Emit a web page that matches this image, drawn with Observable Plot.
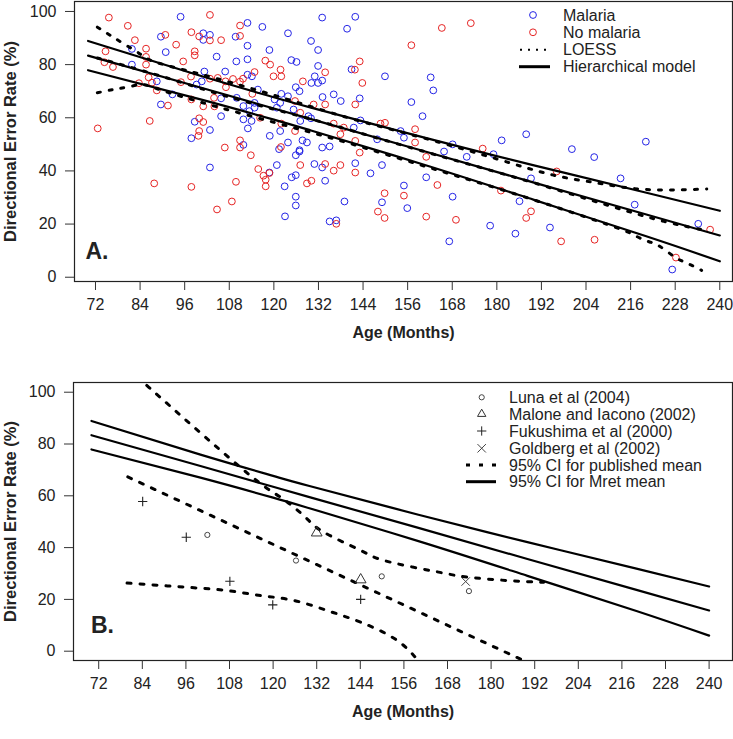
<!DOCTYPE html>
<html><head><meta charset="utf-8">
<script src="https://cdn.jsdelivr.net/npm/d3@7"></script>
<script src="https://cdn.jsdelivr.net/npm/@observablehq/plot@0.6"></script>
<style>
body{margin:0;background:#fff;}
#chart svg{display:block;}
</style></head><body><div id="chart"></div>
<script>
const xTicks = [72,84,96,108,120,132,144,156,168,180,192,204,216,228,240];
const yTicks = [0,20,40,60,80,100];

// Panel A: [age (months), directional error rate (%)]
const malaria = [[94.9,98.0],[112.9,95.7],[116.9,94.2],[133.0,97.7],[141.9,98.0],[139.7,93.5],[123.8,91.8],[109.7,90.5],[89.6,90.5],[101.0,91.8],[102.8,91.2],[101.0,89.3],[130.0,88.9],[112.9,87.1],[81.8,85.9],[90.9,84.7],[118.8,85.5],[131.9,85.5],[104.6,83.0],[109.9,81.2],[112.9,82.0],[124.7,81.7],[126.1,81.0],[81.8,80.0],[131.9,79.5],[140.9,78.2],[106.9,77.4],[101.3,77.4],[112.9,76.2],[114.1,75.6],[149.9,75.6],[131.0,75.6],[133.0,74.0],[130.1,73.1],[131.9,73.1],[100.6,73.7],[99.2,72.5],[88.5,73.7],[115.7,70.6],[122.0,69.0],[123.8,68.1],[125.9,71.5],[126.9,70.0],[136.1,68.8],[133.1,67.8],[138.0,66.3],[143.1,67.3],[92.7,68.8],[89.6,65.0],[105.8,67.3],[110.0,67.5],[114.8,65.6],[114.8,63.8],[113.4,62.5],[111.8,64.4],[120.2,66.9],[121.7,65.6],[120.8,63.8],[125.3,63.1],[129.3,60.6],[105.8,60.6],[98.7,58.5],[111.8,59.4],[114.0,58.8],[127.1,58.8],[130.0,59.8],[143.3,59.0],[141.5,56.3],[113.0,56.0],[102.8,55.4],[97.8,52.3],[118.9,53.2],[121.7,55.0],[147.8,51.9],[154.1,55.0],[123.8,50.7],[127.7,51.5],[128.9,50.7],[111.8,49.8],[121.4,48.2],[133.0,48.8],[135.0,49.2],[126.9,47.8],[102.8,41.3],[120.8,42.2],[118.8,39.4],[130.9,42.6],[133.0,41.3],[141.9,42.9],[146.0,39.1],[149.1,42.2],[124.8,37.6],[125.9,38.4],[133.8,36.3],[122.9,34.2],[125.9,30.3],[125.9,27.0],[139.0,28.5],[123.0,22.9],[135.0,21.0],[136.8,21.4],[149.1,28.2],[125.9,45.9],[126.9,47.3],[162.2,75.2],[162.9,70.3],[157.0,65.9],[160.0,60.6],[155.0,52.5],[168.1,50.0],[181.3,51.5],[187.9,53.8],[220.1,51.0],[200.2,48.2],[165.8,47.3],[171.9,45.3],[179.1,46.3],[206.2,45.2],[161.0,37.6],[155.0,34.5],[168.1,30.3],[155.9,26.0],[167.2,13.5],[178.2,19.4],[185.0,16.4],[186.1,28.6],[189.2,37.2],[194.3,18.7],[213.3,37.2],[217.1,27.3],[234.2,20.1],[227.2,2.9]];
const noMalaria = [[75.6,97.7],[102.8,98.7],[80.7,94.6],[110.9,94.7],[110.9,90.8],[90.8,91.2],[97.8,92.2],[99.9,90.6],[102.8,89.1],[105.8,89.2],[82.6,89.2],[93.7,87.5],[74.7,85.0],[85.6,86.0],[98.7,85.0],[98.7,83.5],[85.6,82.9],[117.7,81.5],[95.6,81.2],[143.1,81.2],[74.4,80.9],[76.7,79.1],[85.6,80.0],[119.0,80.0],[141.8,78.1],[114.8,77.2],[121.8,78.1],[119.9,75.6],[122.0,75.6],[133.8,77.1],[127.8,73.7],[143.8,73.1],[111.7,74.7],[110.9,73.6],[109.0,74.6],[107.0,73.7],[104.9,75.0],[102.8,74.7],[97.7,75.5],[95.0,73.4],[86.3,75.2],[87.2,73.2],[83.7,73.0],[88.5,70.3],[114.2,69.0],[103.9,67.5],[107.1,71.5],[97.8,66.9],[91.5,64.6],[101.0,64.3],[104.0,64.3],[125.7,66.3],[130.7,65.0],[133.8,65.0],[141.9,65.0],[127.1,61.9],[86.6,58.8],[72.6,56.0],[99.9,59.8],[101.0,58.4],[116.3,60.0],[122.0,57.8],[136.1,57.8],[148.7,57.8],[149.9,58.1],[138.8,56.3],[99.9,55.0],[99.7,53.2],[125.7,55.0],[137.9,53.8],[141.9,51.3],[110.9,51.5],[106.8,48.8],[110.9,48.8],[121.9,49.0],[87.8,35.3],[97.8,34.0],[113.8,45.9],[115.8,40.7],[117.2,38.2],[117.8,36.7],[117.8,34.2],[118.8,39.2],[127.1,42.2],[133.8,42.6],[136.1,40.1],[137.9,42.2],[141.9,39.4],[128.9,35.3],[130.1,36.3],[109.8,35.9],[108.7,28.5],[104.7,25.5],[136.8,20.1],[149.8,31.6],[148.0,24.7],[149.8,22.3],[143.1,46.9],[165.2,93.8],[173.0,95.6],[157.0,87.3],[158.0,55.7],[158.0,50.7],[176.2,48.4],[161.0,45.3],[164.0,34.7],[155.0,30.7],[161.0,22.8],[169.0,21.6],[181.1,32.6],[196.1,39.8],[189.2,24.8],[187.9,22.3],[197.3,13.5],[206.3,14.1],[237.4,17.9],[228.2,7.4]];

// Hierarchical (Mret) model: mean and 95% CI
const hierAge   = [70, 100, 120, 130, 160, 190, 220, 240];
const hierMean  = [83.4, 71.5, 63.5, 59.5, 47.6, 35.6, 23.7, 15.7];
const hierUpper = [88.9, 75.9, 67.7, 63.8, 52.7, 42.1, 31.9, 25.0];
const hierLower = [77.9, 67.0, 59.3, 55.2, 42.5, 29.1, 15.5, 6.0];

// LOESS fit and band
const loessUpper = [[72.5,94.1],[76,91.0],[80,87.5],[84,84.0],[88,81.0],[100,76.5],[120,68.5],[140,60.0],[160,52.5],[180,44.5],[195,38.5],[206,35.7],[216,33.5],[226,32.8],[236.5,33.2]];
const loessMean  = [[72.5,82.5],[90,75.5],[110,67.0],[130,59.5],[150,51.5],[170,43.5],[190,35.5],[210,27.0],[225,21.0],[236.5,17.6]];
const loessLower = [[72.5,69.4],[76.7,70.6],[80.3,71.5],[84.3,72.5],[88,71.2],[100,66.0],[120,58.3],[140,50.5],[160,42.0],[180,33.5],[200,24.5],[211.7,18.9],[216.2,16.4],[219.8,13.9],[223.4,12.0],[227.9,7.6],[231.5,5.1],[235.1,2.6]];

// Panel B: published studies
const luna      = [[101.9,44.9],[126.3,35.0],[149.9,28.9],[173.9,23.2]];
const malone    = [[132.0,45.7],[144.1,27.6]];
const fukushima = [[84.1,57.8],[96.1,44.0],[108.1,27.0],[119.9,17.9],[144.1,20.0]];
const goldberg  = [[173.0,26.9]];
const pubUpper = [[80,109.0],[85.8,101.9],[111.5,70.4],[122,59.5],[128.9,51.7],[134,45.9],[144.1,38.9],[149.6,35.4],[158.7,32.4],[167.9,29.9],[173.4,28.6],[184.4,27.3],[194.5,26.6]];
const pubMean  = [[80,67.3],[190,-4.3]];
const pubLower = [[79.8,26.3],[89,25.4],[98.2,24.5],[107.4,23.4],[116.5,21.5],[125.7,19.6],[134.9,15.7],[144.1,11.2],[154.2,4.1],[159.9,-3.6],[162,-6.5]];

const legendA = ["Malaria", "No malaria", "LOESS", "Hierarchical model"];
const legendB = ["Luna et al (2004)", "Malone and Iacono (2002)", "Fukushima et al (2000)", "Goldberg et al (2002)", "95% CI for published mean", "95% CI for Mret mean"];
const xLabel = "Age (Months)";
const yLabel = "Directional Error Rate (%)";

const FONT = "'Liberation Sans',Arial,sans-serif";
const FS = 16;

const hier = hierAge.map((a, i) => ({age: a, mean: hierMean[i], upper: hierUpper[i], lower: hierLower[i]}));
const pts = a => a.map(([age, rate]) => ({age, rate}));

const DOT = {strokeWidth: 3, strokeDasharray: "3,9", stroke: "black"};
const SOLID = {strokeWidth: 2.2, stroke: "black"};

function frameMarks(panelLetter, letterDx, letterDy, titleDx) {
  return [
    Plot.frame({stroke: "#222", strokeWidth: 1.2}),
    Plot.axisX({ticks: xTicks, tickSize: 9, tickPadding: 8, tickFormat: d => String(d), label: null, fontSize: FS, stroke: "#333"}),
    Plot.axisY({ticks: yTicks, tickSize: 9, tickPadding: 9, tickFormat: d => String(d), label: null, fontSize: FS, stroke: "#333"}),
    Plot.text([xLabel], {text: d => d, frameAnchor: "bottom", dy: 51, textAnchor: "middle", lineAnchor: "middle", fontWeight: "bold", fontSize: FS}),
    Plot.text([yLabel], {text: d => d, frameAnchor: "left", dx: titleDx, rotate: -90, textAnchor: "middle", lineAnchor: "middle", fontWeight: "bold", fontSize: 16.5}),
    Plot.text([panelLetter], {text: d => d, frameAnchor: "bottom-left", dx: letterDx, dy: letterDy, textAnchor: "start", lineAnchor: "middle", fontWeight: "bold", fontSize: 23})
  ];
}

const plotA = Plot.plot({
  width: 733, height: 360,
  marginLeft: 74, marginRight: 1, marginTop: 1, marginBottom: 79,
  x: {domain: [66.35, 243.42]},
  y: {domain: [-1.61, 103.75]},
  style: {fontFamily: FONT, fontSize: FS + "px", color: "#222", background: "white"},
  marks: [
    Plot.dot(pts(malaria), {x: "age", y: "rate", r: 3.4, stroke: "#2424e6", strokeWidth: 1}),
    Plot.dot(pts(noMalaria), {x: "age", y: "rate", r: 3.4, stroke: "#e62424", strokeWidth: 1}),
    Plot.line(pts(loessUpper), {x: "age", y: "rate", curve: "natural", ...DOT}),
    Plot.line(pts(loessMean), {x: "age", y: "rate", curve: "natural", ...DOT}),
    Plot.line(pts(loessLower), {x: "age", y: "rate", curve: "natural", ...DOT}),
    Plot.line(hier, {x: "age", y: "upper", curve: "natural", ...SOLID}),
    Plot.line(hier, {x: "age", y: "mean", ...SOLID}),
    Plot.line(hier, {x: "age", y: "lower", curve: "natural", ...SOLID}),
    ...frameMarks("A.", 11, -29.5, -63.5)
  ]
});

const plotB = Plot.plot({
  width: 733, height: 379,
  marginLeft: 73, marginRight: 1, marginTop: 22, marginBottom: 79,
  x: {domain: [65.06, 246.44]},
  y: {domain: [-3.59, 103.75]},
  style: {fontFamily: FONT, fontSize: FS + "px", color: "#222", background: "white"},
  marks: [
    Plot.line(hier, {x: "age", y: "upper", curve: "natural", ...SOLID}),
    Plot.line(hier, {x: "age", y: "mean", ...SOLID}),
    Plot.line(hier, {x: "age", y: "lower", curve: "natural", ...SOLID}),
    Plot.line(pts(pubUpper), {x: "age", y: "rate", curve: "natural", clip: true, ...DOT, strokeDasharray: "4,9"}),
    Plot.line(pts(pubMean), {x: "age", y: "rate", clip: true, ...DOT, strokeDasharray: "4,9"}),
    Plot.line(pts(pubLower), {x: "age", y: "rate", curve: "natural", clip: true, ...DOT, strokeDasharray: "4,9"}),
    Plot.dot(pts(luna), {x: "age", y: "rate", r: 2.6, symbol: "circle", stroke: "#444", strokeWidth: 1}),
    Plot.dot(pts(malone), {x: "age", y: "rate", r: 4, symbol: "triangle", stroke: "#333", strokeWidth: 1}),
    Plot.dot(pts(fukushima), {x: "age", y: "rate", r: 3.1, symbol: "plus", stroke: "#222", strokeWidth: 1.1}),
    Plot.dot(pts(goldberg), {x: "age", y: "rate", r: 3.9, symbol: "times", stroke: "#444", strokeWidth: 1}),
    ...frameMarks("B.", 17.5, -35, -62.5)
  ]
});

const root = document.getElementById("chart");
root.appendChild(plotA);
root.appendChild(plotB);

// Legend A
(function () {
  const svg = d3.select(plotA);
  const g = svg.append("g").attr("font-family", FONT).attr("font-size", FS).attr("fill", "#222").attr("text-anchor", "start");
  const rows = [15, 32.3, 49.7, 66.7];
  const tx = 563, sx = 533;
  g.append("circle").attr("cx", sx).attr("cy", rows[0]).attr("r", 3.4).attr("fill", "none").attr("stroke", "#2424e6");
  g.append("circle").attr("cx", sx).attr("cy", rows[1]).attr("r", 3.4).attr("fill", "none").attr("stroke", "#e62424");
  g.append("line").attr("x1", 520).attr("x2", 550).attr("y1", rows[2]).attr("y2", rows[2]).attr("stroke", "black").attr("stroke-width", 2).attr("stroke-dasharray", "2,6");
  g.append("line").attr("x1", 519).attr("x2", 550).attr("y1", rows[3]).attr("y2", rows[3]).attr("stroke", "black").attr("stroke-width", 3);
  legendA.forEach((t, i) => g.append("text").attr("x", tx).attr("y", rows[i]).attr("dy", "0.35em").text(t));
})();

// Legend B
(function () {
  const svg = d3.select(plotB);
  const g = svg.append("g").attr("font-family", FONT).attr("font-size", FS).attr("fill", "#222").attr("text-anchor", "start");
  const rows = [37.3, 54, 71, 88.3, 105, 121.7];
  const tx = 509, sx = 481.7;
  g.append("circle").attr("cx", sx).attr("cy", rows[0]).attr("r", 2.6).attr("fill", "none").attr("stroke", "#444");
  g.append("path").attr("transform", `translate(${sx},${rows[1]})`).attr("d", d3.symbol(d3.symbolTriangle2, 50)()).attr("fill", "none").attr("stroke", "#333");
  g.append("path").attr("transform", `translate(${sx},${rows[2]})`).attr("d", d3.symbol(d3.symbolPlus, 30)()).attr("fill", "none").attr("stroke", "#222");
  g.append("path").attr("transform", `translate(${sx},${rows[3]})`).attr("d", d3.symbol(d3.symbolTimes, 48)()).attr("fill", "none").attr("stroke", "#444");
  g.append("line").attr("x1", 466).attr("x2", 497).attr("y1", rows[4]).attr("y2", rows[4]).attr("stroke", "black").attr("stroke-width", 3).attr("stroke-dasharray", "4,9");
  g.append("line").attr("x1", 466).attr("x2", 496).attr("y1", rows[5]).attr("y2", rows[5]).attr("stroke", "black").attr("stroke-width", 3);
  legendB.forEach((t, i) => g.append("text").attr("x", tx).attr("y", rows[i]).attr("dy", "0.35em").text(t));
})();
</script></body></html>
